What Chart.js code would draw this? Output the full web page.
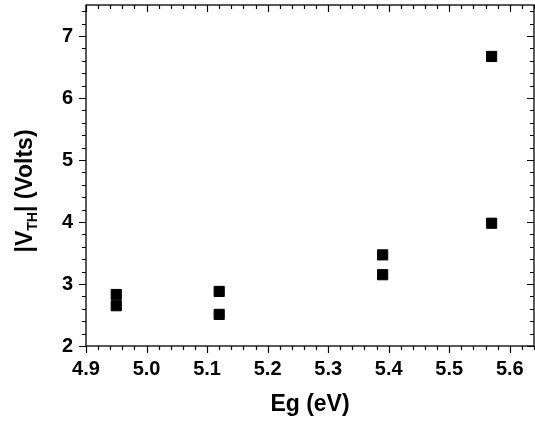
<!DOCTYPE html>
<html>
<head>
  <meta charset="UTF-8">
  <title>|VTH| vs Eg</title>
  <script src="https://cdn.jsdelivr.net/npm/chart.js"></script>
  <style>
    html, body { margin: 0; padding: 0; background: #fff; }
    #wrap { width: 535px; height: 423px; }
  </style>
</head>
<body>
  <div id="wrap"><canvas id="vthChart" width="535" height="423"></canvas></div>

  <script>
    // Data
    const egValues  = [4.95, 4.95, 5.12, 5.12, 5.39, 5.39, 5.57, 5.57];
    const vthValues = [2.83, 2.65, 2.88, 2.51, 3.47, 3.15, 3.98, 6.67];

    // Axis ticks
    const xTicks = [4.9, 5.0, 5.1, 5.2, 5.3, 5.4, 5.5, 5.6];
    const yTicks = [2, 3, 4, 5, 6, 7];
    const xRange = [4.9, 5.64];
    const yRange = [2, 7.5];

    const FONT = '"Liberation Sans", Arial, sans-serif';

    // Box, major/minor ticks on all sides and the axis titles
    const framePlugin = {
      id: 'frame',
      afterDraw(chart) {
        const { ctx, chartArea: a, scales } = chart;
        const xs = scales.x, ys = scales.y;
        ctx.save();
        ctx.strokeStyle = '#000';
        ctx.lineWidth = 1.3;
        ctx.strokeRect(a.left, a.top, a.right - a.left, a.bottom - a.top);

        ctx.lineWidth = 1.2;
        ctx.beginPath();
        // x ticks, every 0.02, major every 0.1
        for (let i = 0; ; i++) {
          const v = xRange[0] + i * 0.02;
          if (v > xRange[1] + 1e-9) break;
          const px = Math.round(xs.getPixelForValue(v)) + 0.5;
          const len = (i % 5 === 0) ? 7 : 4;
          ctx.moveTo(px, a.bottom); ctx.lineTo(px, a.bottom + len);
          ctx.moveTo(px, a.top); ctx.lineTo(px, a.top + len);
        }
        // y ticks, every 0.2, major every 1
        for (let i = 0; ; i++) {
          const v = yRange[0] + i * 0.2;
          if (v > yRange[1] + 1e-9) break;
          const py = Math.round(ys.getPixelForValue(v)) + 0.5;
          const len = (i % 5 === 0) ? 7 : 4;
          ctx.moveTo(a.left, py); ctx.lineTo(a.left - len, py);
          ctx.moveTo(a.right, py); ctx.lineTo(a.right - len, py);
        }
        ctx.stroke();

        // x title
        ctx.fillStyle = '#000';
        ctx.font = 'bold 23px ' + FONT;
        ctx.textAlign = 'center';
        ctx.textBaseline = 'alphabetic';
        ctx.fillText('Eg (eV)', (a.left + a.right) / 2, 411);

        // y title with subscript
        const big = 'bold 23px ' + FONT, small = 'bold 14px ' + FONT;
        const parts = [['|V', big, 0], ['TH', small, 5], ['| (Volts)', big, 0]];
        let total = 0;
        parts.forEach(p => { ctx.font = p[1]; total += ctx.measureText(p[0]).width; });
        ctx.translate(32, 191);
        ctx.rotate(-Math.PI / 2);
        ctx.textAlign = 'left';
        let cx = -total / 2;
        parts.forEach(p => {
          ctx.font = p[1];
          ctx.fillText(p[0], cx, p[2]);
          cx += ctx.measureText(p[0]).width;
        });
        ctx.restore();
      }
    };

    new Chart(document.getElementById('vthChart'), {
      type: 'scatter',
      data: {
        datasets: [{
          data: egValues.map((x, i) => ({ x: x, y: vthValues[i] })),
          backgroundColor: '#000',
          borderColor: '#000',
          borderWidth: 1,
          pointStyle: 'rect',
          pointRadius: 7.2,
          pointHoverRadius: 7.2
        }]
      },
      options: {
        responsive: false,
        animation: false,
        layout: { autoPadding: false, padding: { left: 0, top: 5, right: 1, bottom: 0 } },
        plugins: { legend: { display: false }, tooltip: { enabled: false } },
        scales: {
          x: {
            type: 'linear',
            min: xRange[0], max: xRange[1],
            grid: { display: false, drawTicks: false },
            border: { display: false },
            afterBuildTicks: s => { s.ticks = xTicks.map(v => ({ value: v })); },
            afterFit: s => { s.height = 77; s.paddingLeft = 0; s.paddingRight = 0; },
            ticks: {
              color: '#000', padding: 11, maxRotation: 0, autoSkip: false,
              font: { family: FONT, size: 20, weight: 'bold' },
              callback: v => Number(v).toFixed(1)
            }
          },
          y: {
            type: 'linear',
            min: yRange[0], max: yRange[1],
            grid: { display: false, drawTicks: false },
            border: { display: false },
            afterBuildTicks: s => { s.ticks = yTicks.map(v => ({ value: v })); },
            afterFit: s => { s.width = 86; s.paddingTop = 0; s.paddingBottom = 0; },
            ticks: {
              color: '#000', padding: 13,
              font: { family: FONT, size: 20, weight: 'bold' },
              callback: v => String(v)
            }
          }
        }
      },
      plugins: [framePlugin]
    });
  </script>
</body>
</html>
